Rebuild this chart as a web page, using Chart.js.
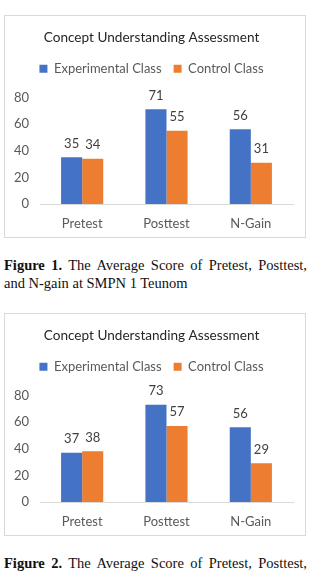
<!DOCTYPE html>
<html lang="en">
<head>
  <meta charset="UTF-8">
  <title>Concept Understanding Assessment</title>
  <script src="https://cdn.jsdelivr.net/npm/chart.js"></script>
  <style>
    body {
      margin: 0;
      background: #fff;
      width: 313px;
      height: 571px;
      overflow: hidden;
      position: relative;
    }
    .chart-box {
      position: absolute;
      left: 4px;
      width: 300px;
      height: 221px;
      border: 1px solid #d9d9d9;
    }
    .chart-inner {
      position: relative;
      width: 300px;
      height: 221px;
    }
    .caption {
      position: absolute;
      left: 4px;
      width: 303px;
      font-family: "Liberation Serif", serif;
      font-size: 14.5px;
      line-height: 18px;
      color: #111;
      white-space: nowrap;
    }
    .caption .l1 {
      text-align: justify;
      text-align-last: justify;
    }
  </style>
</head>
<body>
  <div class="chart-box" style="top:15px">
    <div class="chart-inner"><canvas id="chart1"></canvas></div>
  </div>
  <div class="caption" style="top:256px">
    <div class="l1"><b>Figure 1.</b> The Average Score of Pretest, Posttest,</div>
    <div>and N-gain at SMPN 1 Teunom</div>
  </div>

  <div class="chart-box" style="top:313px">
    <div class="chart-inner"><canvas id="chart2"></canvas></div>
  </div>
  <div class="caption" style="top:554px">
    <div class="l1"><b>Figure 2.</b> The Average Score of Pretest, Posttest,</div>
  </div>

  <script>
    // data
    const categories = ['Pretest', 'Posttest', 'N-Gain'];
    const seriesNames = ['Experimental Class', 'Control Class'];
    const fig1Experimental = [35, 71, 56];
    const fig1Control = [34, 55, 31];
    const fig2Experimental = [37, 73, 56];
    const fig2Control = [38, 57, 29];
    const yTicks = [0, 20, 40, 60, 80];

    const FONT = 'Lato';
    const BLUE = '#4472C4';
    const ORANGE = '#ED7D31';

    // numbers above each bar
    const valueLabels = {
      id: 'valueLabels',
      afterDatasetsDraw(chart) {
        const ctx = chart.ctx;
        ctx.save();
        ctx.font = '13px ' + FONT;
        ctx.fillStyle = '#404040';
        ctx.textAlign = 'center';
        ctx.textBaseline = 'middle';
        chart.data.datasets.forEach((ds, i) => {
          chart.getDatasetMeta(i).data.forEach((bar, j) => {
            ctx.fillText(ds.data[j], bar.x, bar.y - 14);
          });
        });
        ctx.restore();
      }
    };

    // extra room under the legend, before the plot area starts
    const legendGap = {
      id: 'legendGap',
      beforeLayout(chart) {
        const lg = chart.legend;
        if (lg && !lg._gapDone) {
          const fit = lg.fit;
          lg.fit = function () {
            fit.call(this);
            this.height += 12;
          };
          lg._gapDone = true;
        }
      }
    };

    function makeChart(id, expValues, ctrlValues) {
      const ctx = document.getElementById(id).getContext('2d');
      return new Chart(ctx, {
        type: 'bar',
        data: {
          labels: categories,
          datasets: [
            { label: seriesNames[0], data: expValues, backgroundColor: BLUE },
            { label: seriesNames[1], data: ctrlValues, backgroundColor: ORANGE }
          ]
        },
        options: {
          responsive: true,
          maintainAspectRatio: false,
          animation: false,
          datasets: { bar: { categoryPercentage: 0.5, barPercentage: 1 } },
          layout: { padding: { left: 5, right: 12, top: 0, bottom: 0 } },
          scales: {
            x: {
              grid: { display: false, drawTicks: false },
              border: { display: true, color: '#d9d9d9', width: 1 },
              ticks: { color: '#595959', font: { family: FONT, size: 13 }, padding: 12 },
              afterFit: s => { s.height = 33; }
            },
            y: {
              min: 0,
              max: 80,
              afterBuildTicks: s => { s.ticks = yTicks.map(v => ({ value: v })); },
              grid: { display: false, drawTicks: false },
              border: { display: false },
              ticks: { color: '#595959', font: { family: FONT, size: 13 }, padding: 11 },
              afterFit: s => { s.width = 30; }
            }
          },
          plugins: {
            title: {
              display: true,
              text: 'Concept Understanding Assessment',
              color: '#262626',
              font: { family: FONT, size: 13.6, weight: 'normal' },
              padding: { top: 13, bottom: 5 }
            },
            legend: {
              labels: {
                boxWidth: 8,
                boxHeight: 8,
                padding: 12,
                color: '#595959',
                font: { family: FONT, size: 13 }
              }
            },
            tooltip: { enabled: false }
          }
        },
        plugins: [valueLabels, legendGap]
      });
    }

    makeChart('chart1', fig1Experimental, fig1Control);
    makeChart('chart2', fig2Experimental, fig2Control);
  </script>
</body>
</html>
